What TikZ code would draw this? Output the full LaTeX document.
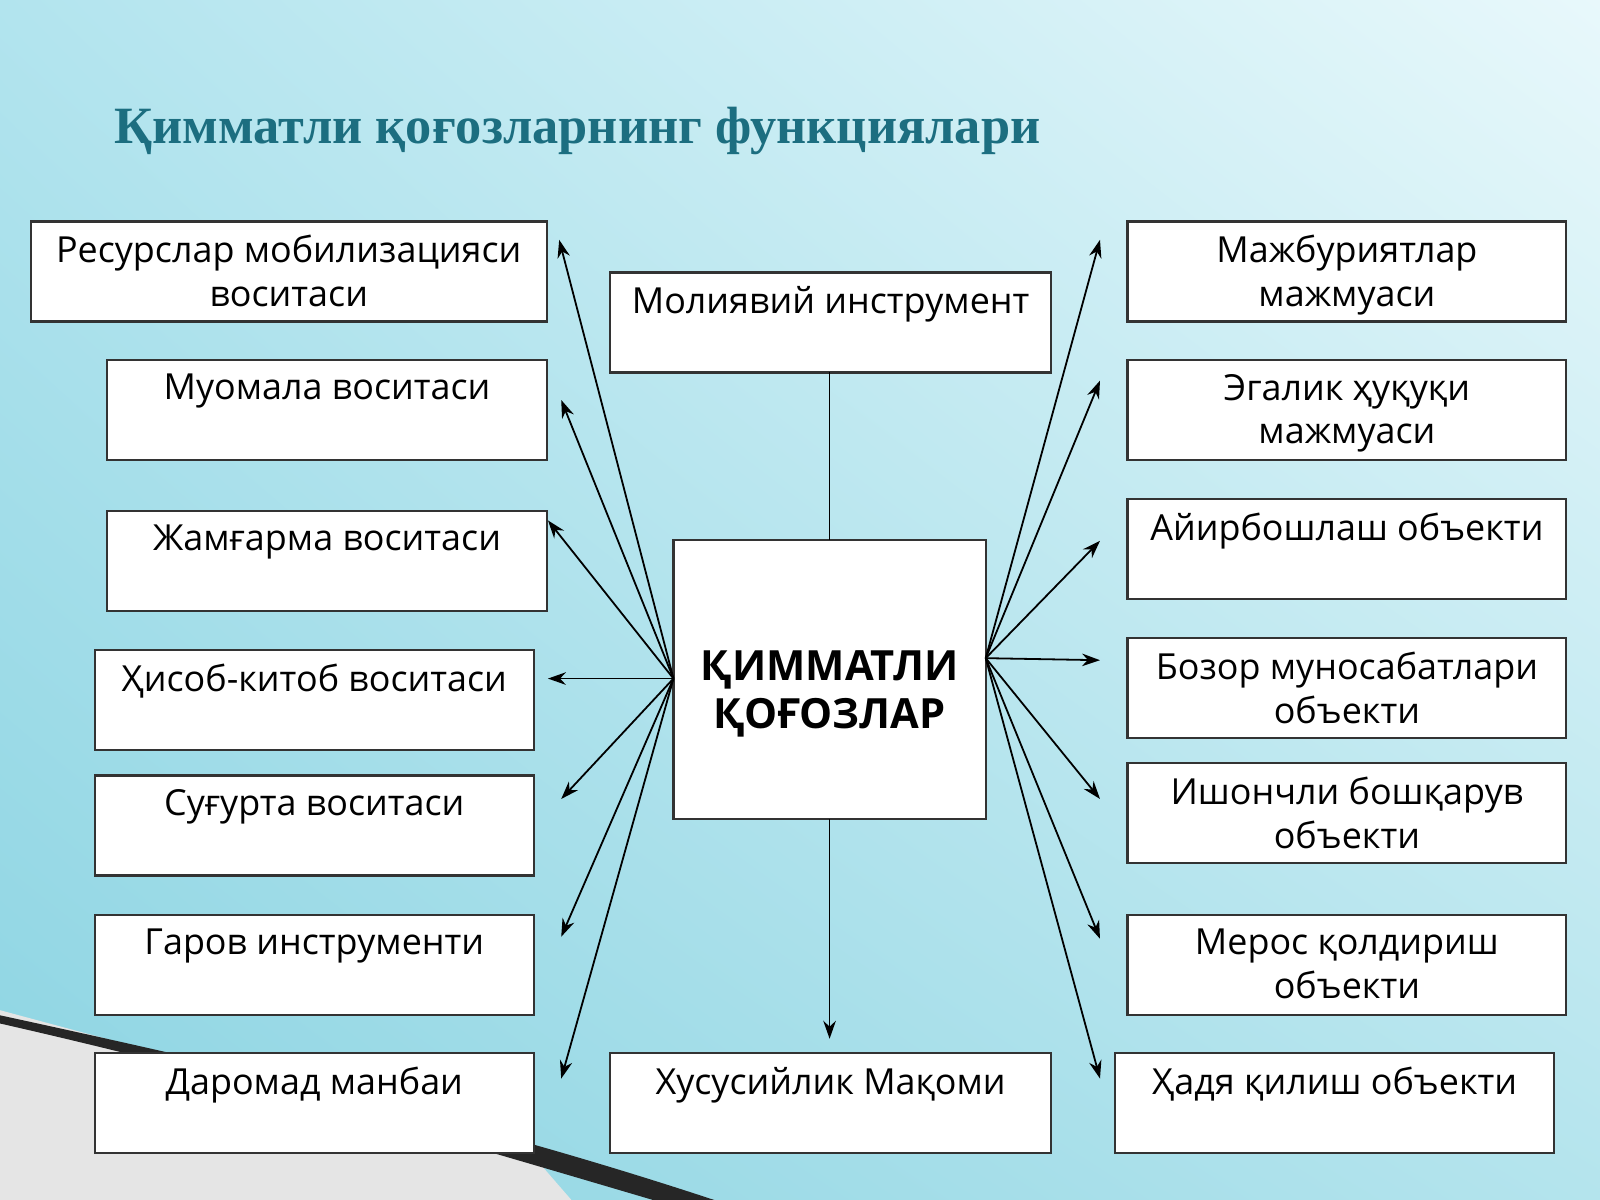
\documentclass[tikz,border=0pt]{standalone}
\usepackage{fontspec}
\setmainfont{Open Sans}
\newfontfamily\titlefont{Liberation Serif}
\usetikzlibrary{arrows.meta,shadings}
\definecolor{ul}{RGB}{178,228,238}
\definecolor{ur}{RGB}{232,248,251}
\definecolor{ll}{RGB}{140,212,226}
\definecolor{lr}{RGB}{180,228,237}
\definecolor{titlec}{RGB}{28,110,128}
\begin{document}
\begin{tikzpicture}[x=0.01cm,y=-0.01cm,
  box/.style={draw=black!80,line width=0.6pt,fill=white},
  lbl/.style={anchor=north,align=center,font=\fontsize{10}{12.2}\selectfont,inner sep=0pt},
  arr/.style={-{Stealth[length=5pt,width=3.5pt]},line width=0.5pt}]
\useasboundingbox (0,0) rectangle (1568,1176);
\shade[upper left=ul,upper right=ur,lower left=ll,lower right=lr] (0,0) rectangle (1568,1176);
\fill[gray!20] (0,990) -- (520,1130) -- (560,1176) -- (0,1176) -- cycle;
\fill[black!85] (0,995) .. controls (300,1060) and (500,1110) .. (700,1176) -- (640,1176) .. controls (450,1120) and (250,1060) .. (0,1003) -- cycle;
\node[anchor=west,font=\titlefont\bfseries\fontsize{14.6}{17}\selectfont,text=titlec] (title) at (100,128) {Қимматли қоғозларнинг функциялари};
\newcommand{\bx}[6]{\draw[box] (#2,#3) rectangle (#4,#5); \node[lbl] (#1) at ({(#2+#4)/2},#3+13) {#6};}
\bx{l1}{30}{217}{536}{315}{Ресурслар мобилизацияси\\воситаси}
\bx{l2}{105}{353}{536}{451}{Муомала воситаси}
\bx{l3}{105}{501}{536}{599}{Жамғарма воситаси}
\bx{l4}{93}{637}{523}{735}{Ҳисоб-китоб воситаси}
\bx{l5}{93}{760}{523}{858}{Суғурта воситаси}
\bx{l6}{93}{897}{523}{995}{Гаров инструменти}
\bx{l7}{93}{1032}{523}{1130}{Даромад манбаи}
\bx{mt}{598}{267}{1030}{365}{Молиявий инструмент}
\bx{mb}{598}{1032}{1030}{1130}{Хусусийлик Мақоми}
\bx{r1}{1105}{217}{1535}{315}{Мажбуриятлар\\мажмуаси}
\bx{r2}{1105}{353}{1535}{451}{Эгалик ҳуқуқи\\мажмуаси}
\bx{r3}{1105}{489}{1535}{587}{Айирбошлаш объекти}
\bx{r4}{1105}{625}{1535}{723}{Бозор муносабатлари\\объекти}
\bx{r5}{1105}{748}{1535}{846}{Ишончли бошқарув\\объекти}
\bx{r6}{1105}{897}{1535}{995}{Мерос қолдириш\\объекти}
\bx{r7}{1093}{1032}{1523}{1130}{Ҳадя қилиш объекти}
\draw[box] (660,529) rectangle (966,803);
\node[align=center,font=\bfseries\fontsize{11.6}{13.6}\selectfont] (c) at (813,680) {ҚИММАТЛИ\\ҚОҒОЗЛАР};
\coordinate (cl) at (660,665); \coordinate (cr) at (966,645);
\coordinate (ct) at (813,529); \coordinate (cb) at (813,803);
\coordinate (mtb) at (813,365); \coordinate (mbt) at (813,1018);
\foreach \n/\x/\y in {a1/548/235,a2/550/392,a3/537/510,a4/537/665,a5/550/783,a6/550/918,a7/550/1057}
  {\coordinate (\n) at (\x,\y); \draw[arr] (cl) -- (\n);}
\foreach \n/\x/\y in {b1/1078/235,b2/1078/373,b3/1078/530,b4/1078/647,b5/1078/783,b6/1078/920,b7/1078/1057}
  {\coordinate (\n) at (\x,\y); \draw[arr] (cr) -- (\n);}
\draw[line width=0.5pt] (mtb) -- (ct);
\draw[arr] (cb) -- (mbt);
\end{tikzpicture}
\end{document}
